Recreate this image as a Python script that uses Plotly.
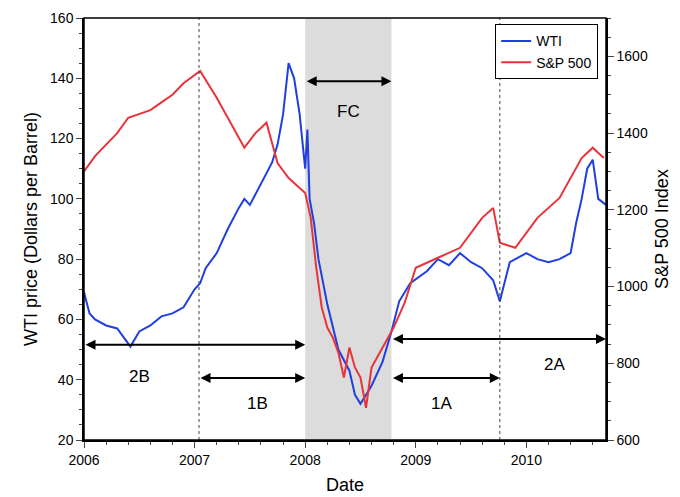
import plotly.graph_objects as go

wti_t = [2006.0,2006.05,2006.1,2006.2,2006.3,2006.38,2006.42,2006.5,2006.6,2006.7,2006.8,2006.9,2007.0,2007.05,2007.1,2007.2,2007.3,2007.4,2007.45,2007.5,2007.6,2007.7,2007.75,2007.8,2007.85,2007.9,2007.95,2008.0,2008.02,2008.04,2008.08,2008.12,2008.2,2008.3,2008.4,2008.45,2008.5,2008.6,2008.7,2008.78,2008.85,2008.95,2009.1,2009.2,2009.3,2009.4,2009.5,2009.6,2009.7,2009.76,2009.85,2010.0,2010.1,2010.2,2010.3,2010.4,2010.45,2010.5,2010.55,2010.6,2010.65,2010.72]
wti_v = [69,62,60,58,57,53,51,56,58,61,62,64,70,72,77,82,90,97,100,98,105,112,118,128,145,140,128,110,123,100,92,80,65,50,43,35,32,38,46,56,66,72,76,80,78,82,79,77,73,66,79,82,80,79,80,82,92,100,110,113,100,98]

sp_t = [2006.0,2006.1,2006.2,2006.3,2006.4,2006.5,2006.6,2006.7,2006.8,2006.9,2007.05,2007.2,2007.35,2007.45,2007.55,2007.65,2007.75,2007.85,2008.0,2008.05,2008.1,2008.15,2008.2,2008.25,2008.3,2008.35,2008.4,2008.45,2008.5,2008.55,2008.6,2008.7,2008.8,2008.9,2009.0,2009.2,2009.4,2009.6,2009.7,2009.76,2009.9,2010.1,2010.3,2010.5,2010.6,2010.7]
sp_v = [1300,1340,1370,1400,1440,1450,1460,1480,1500,1530,1562,1492,1414,1362,1400,1427,1322,1283,1244,1179,1049,945,893,867,828,763,841,789,763,684,789,841,893,958,1049,1075,1101,1179,1205,1114,1101,1179,1231,1335,1362,1335]

arrows = [  # (x0, x1, y, label, lx, ly)
    (2006.0, 2008.0, 51.6, "2B", 2006.5, 41),
    (2007.04, 2008.0, 40.6, "1B", 2007.57, 32),
    (2008.0, 2008.78, 139, "FC", 2008.39, 129),
    (2008.78, 2009.76, 40.6, "1A", 2009.23, 32),
    (2008.78, 2010.72, 53.5, "2A", 2010.25, 45),
]
vlines = [2007.04, 2009.76]

fig = go.Figure()
fig.add_trace(go.Scatter(x=wti_t, y=wti_v, name="WTI", mode="lines", line=dict(color="#1f3fe0", width=2)))
fig.add_trace(go.Scatter(x=sp_t, y=sp_v, name="S&P 500", mode="lines", line=dict(color="#e8333a", width=2), yaxis="y2"))
fig.add_vrect(x0=2008.0, x1=2008.78, fillcolor="#dcdcdc", line_width=0, layer="below")
for v in vlines:
    fig.add_shape(type="line", x0=v, x1=v, y0=20, y1=160, line=dict(color="#444", width=1, dash="dot"))
for x0, x1, y, lab, lx, ly in arrows:
    fig.add_annotation(x=x1, y=y, ax=x0, ay=y, xref="x", yref="y", axref="x", ayref="y",
                       showarrow=True, arrowhead=2, arrowsize=1, arrowwidth=2, arrowcolor="black",
                       arrowside="end+start", text="")
    fig.add_annotation(x=lx, y=ly, text=lab, showarrow=False, font=dict(size=17, color="black"))
ax = dict(showline=True, linecolor="black", linewidth=1.5, ticks="outside", ticklen=6, mirror=False,
          showgrid=False, zeroline=False, tickfont=dict(size=14, color="black"), automargin=False,
          minor=dict(ticks="outside", ticklen=3))
fig.update_layout(
    width=680, height=497, margin=dict(l=76, r=82, t=10, b=65),
    plot_bgcolor="white", paper_bgcolor="white",
    font=dict(family="Liberation Sans, Arial", color="black"),
    xaxis=dict(**ax, range=[2006, 2010.72], tickvals=[2006,2007,2008,2009,2010],
               title=dict(text="Date", font=dict(size=18), standoff=12)),
    yaxis=dict(**ax, range=[20, 160], dtick=20, title=dict(text="WTI price (Dollars per Barrel)", font=dict(size=18), standoff=8)),
    yaxis2=dict(**ax, range=[600, 1700], dtick=200, overlaying="y", side="right",
                title=dict(text="S&P 500 Index", font=dict(size=18), standoff=8)),
    legend=dict(x=0.985, y=0.985, xanchor="right", yanchor="top", bordercolor="black", borderwidth=1,
                font=dict(size=14), bgcolor="white"),
    showlegend=True,
)
fig.add_shape(type="rect", xref="paper", yref="paper", x0=0, x1=1, y0=0, y1=1, line=dict(color="black", width=1.5))
fig.write_html("out.html")
